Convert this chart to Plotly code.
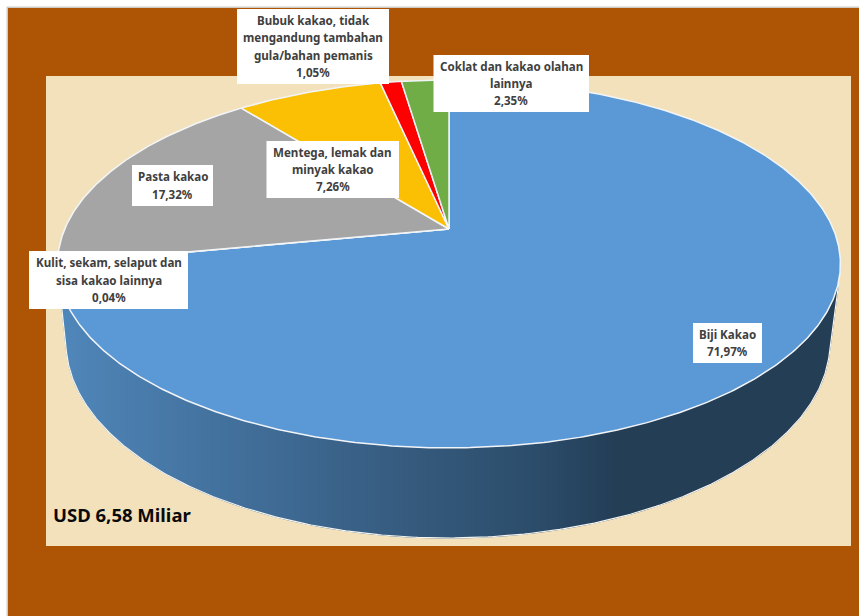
import numpy as np
import plotly.graph_objects as go

# Export composition by product group, percent
categories = ["Biji Kakao", "Kulit, sekam, selaput dan sisa kakao lainnya", "Pasta kakao",
              "Mentega, lemak dan minyak kakao",
              "Bubuk kakao, tidak mengandung tambahan gula/bahan pemanis",
              "Coklat dan kakao olahan lainnya"]
shares = [71.97, 0.04, 17.32, 7.26, 1.05, 2.35]
label_lines = [["Biji Kakao"],
               ["Kulit, sekam, selaput dan", "sisa kakao lainnya"],
               ["Pasta kakao"],
               ["Mentega, lemak dan", "minyak kakao"],
               ["Bubuk kakao, tidak", "mengandung tambahan", "gula/bahan pemanis"],
               ["Coklat dan kakao olahan", "lainnya"]]
total_label = "USD 6,58 Miliar"

slice_colors = ["#5B98D6", "#ED7D31", "#A5A5A5", "#FBBF04", "#FF0000", "#70AD47"]
W, H = 859, 616

# Perspective of the pie: the rim is an ellipse, the apex sits above its centre
APEX = (449.0, 229.0)
TILT = 0.19
RX, RY = 384.3, 177.3
TOP = dict(cx=449.0, cy=264.0, a=391.5, b=184.0)
BASE = dict(cx=448.0, cy=342.0, a=382.0, b=196.0)

# Label boxes: left, right, top, bottom, in the same order as the categories
boxes = [(693, 762, 323, 363), (29, 188, 251, 309), (132, 213, 165, 206),
         (266.5, 399, 141, 198), (237, 389, 9, 84), (433.5, 589, 55, 112)]
LINE_STEP = 17.4
LABEL_FONT = dict(family="Noto Sans", size=11.6, color="#404040", weight="bold")

# Shading of the side wall across its width
shade_x = [57, 190, 430, 500, 550, 615, 841]
shade_rgb = np.array([[80, 135, 186], [69, 117, 163], [52, 88, 122],
                      [47, 81, 112], [42, 74, 104], [36, 62, 86], [36, 62, 86]])


def project(theta):
    """Clockwise angle from twelve o'clock to a point on the rim."""
    u, v = np.sin(theta), np.cos(theta)
    w = 1 + TILT * v
    return APEX[0] + RX * u / w, APEX[1] - RY * v / w


def ellipse_points(e, n=720):
    t = np.linspace(0, 2 * np.pi, n, endpoint=False)
    return e["cx"] + e["a"] * np.cos(t), e["cy"] + e["b"] * np.sin(t)


def lower_hull(points):
    """Outer lower edge (largest y on screen) of a set of points."""
    hull = []
    for p in sorted(points):
        while len(hull) >= 2:
            (x1, y1), (x2, y2) = hull[-2], hull[-1]
            if (x2 - x1) * (p[1] - y1) - (y2 - y1) * (p[0] - x1) >= 0:
                hull.pop()
            else:
                break
        hull.append(p)
    return np.array(hull)


fig = go.Figure()

# Side wall as narrow strips, each with its own shade
xt, yt = ellipse_points(TOP)
xb, yb = ellipse_points(BASE)
hull = lower_hull(list(zip(np.r_[xt, xb], np.r_[yt, yb])))
x_lo, x_hi = hull[0, 0], hull[-1, 0]
edges = np.arange(x_lo, x_hi + 3, 3.0)
edges[-1] = x_hi


def rim_y(x):
    return TOP["cy"] + TOP["b"] * np.sqrt(np.clip(1 - ((x - TOP["cx"]) / TOP["a"]) ** 2, 0, 1))


for x0, x1 in zip(edges[:-1], edges[1:]):
    mid = (x0 + x1) / 2
    rgb = [int(round(np.interp(mid, shade_x, shade_rgb[:, i]))) for i in range(3)]
    colour = f"rgb({rgb[0]},{rgb[1]},{rgb[2]})"
    fig.add_trace(go.Scatter(
        x=[x0, x1, x1, x0, x0],
        y=[rim_y(x0), rim_y(x1), np.interp(x1, hull[:, 0], hull[:, 1]),
           np.interp(x0, hull[:, 0], hull[:, 1]), rim_y(x0)],
        mode="lines", fill="toself", fillcolor=colour,
        line=dict(color=colour, width=1), hoverinfo="skip", showlegend=False))

# Pale outline along the foot of the wall
fig.add_trace(go.Scatter(x=hull[:, 0], y=hull[:, 1], mode="lines",
                         line=dict(color="#f4f4f0", width=1.2),
                         hoverinfo="skip", showlegend=False))

# Pie slices on top, running clockwise from twelve o'clock
fractions = np.cumsum([0] + shares) / sum(shares)
for name, start, end, colour in zip(categories, fractions[:-1], fractions[1:], slice_colors):
    n = max(3, int((end - start) * 720))
    theta = np.linspace(start, end, n) * 2 * np.pi
    px, py = project(theta)
    fig.add_trace(go.Scatter(
        x=np.r_[APEX[0], px, APEX[0]], y=np.r_[APEX[1], py, APEX[1]],
        mode="lines", fill="toself", fillcolor=colour, name=name,
        line=dict(color="#F2F5F8", width=1.5), showlegend=False, hoverinfo="name"))

shapes = [
    dict(type="rect", x0=6.5, x1=W + 5, y0=6.5, y1=H + 5, fillcolor="#CFCBC6", line_width=0, layer="below"),
    dict(type="rect", x0=8, x1=W + 5, y0=8, y1=H + 5, fillcolor="#AE5405", line_width=0, layer="below"),
    dict(type="rect", x0=46, x1=851, y0=76, y1=546, fillcolor="#F3E1BC", line_width=0, layer="below"),
]
annotations = [dict(x=51, y=514, text=total_label, xanchor="left", yanchor="middle", showarrow=False,
                    font=dict(family="Noto Sans", size=18.5, color="#0A0A0A", weight="bold"))]

for lines, value, (left, right, top, bottom) in zip(label_lines, shares, boxes):
    shapes.append(dict(type="rect", x0=left, x1=right, y0=top, y1=bottom,
                       fillcolor="white", line_width=0, layer="above"))
    rows = lines + [f"{value:.2f}%".replace(".", ",")]
    middle = (top + bottom) / 2
    for i, row in enumerate(rows):
        annotations.append(dict(x=(left + right) / 2, y=middle + (i - (len(rows) - 1) / 2) * LINE_STEP,
                                text=row, showarrow=False, xanchor="center", yanchor="middle",
                                font=LABEL_FONT))

fig.update_layout(
    width=W, height=H, margin=dict(l=0, r=0, t=0, b=0),
    paper_bgcolor="white", plot_bgcolor="rgba(0,0,0,0)",
    xaxis=dict(range=[0, W], visible=False, fixedrange=True),
    yaxis=dict(range=[H, 0], visible=False, fixedrange=True),
    shapes=shapes, annotations=annotations, showlegend=False,
)
fig.write_html("out.html", config=dict(displayModeBar=False))
